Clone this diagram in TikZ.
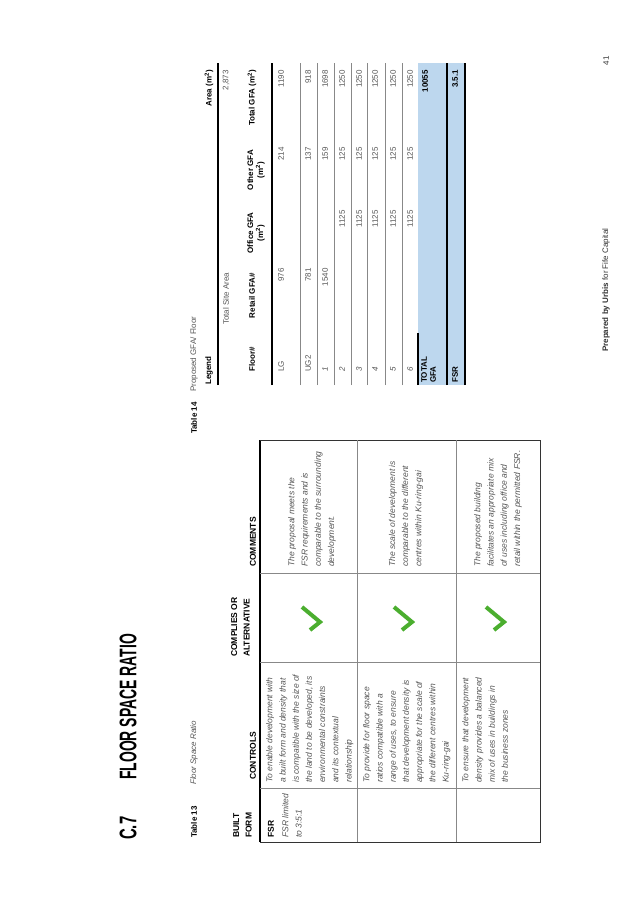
\documentclass[tikz,border=0pt]{standalone}
\usepackage{fontspec}
\usepackage{graphicx}
\setmainfont{Liberation Sans}
\usetikzlibrary{positioning,calc}
\definecolor{txtgray}{HTML}{555555}
\definecolor{rulegray}{HTML}{888888}
\definecolor{tickgreen}{HTML}{4BAE2F}
\definecolor{totalblue}{HTML}{BDD7EE}
\tikzset{
    every node/.style={rotate=90, inner sep=0pt, text=txtgray},
    head/.style={font=\fontsize{8.5}{12.5}\selectfont\bfseries, text=black, align=left},
    body/.style={font=\fontsize{8.5}{13.2}\selectfont\itshape, align=left},
    cell/.style={font=\fontsize{8}{10}\selectfont},
    bhead/.style={font=\fontsize{8}{10}\selectfont\bfseries, text=black, align=center},
    thick rule/.style={line width=1.6pt, black},
    thin rule/.style={line width=0.5pt, rulegray},
    tick/.style={line width=4pt, tickgreen},
}
\newcommand{\tickat}[1]{\draw[tick] ($(#1)+(-11,-10)$) -- ($(#1)+(7,5)$) -- ($(#1)+(-3,13)$);}

\begin{document}
\begin{tikzpicture}[x=1pt, y=-1pt]
        \useasboundingbox (0,0) rectangle (637,902);
        % title and captions
        \node[anchor=west, text=black, font=\fontsize{24}{24}\selectfont\bfseries] (secno) at (128,840) {\scalebox{0.62}[1]{C.7}};
        \node[anchor=west, text=black, font=\fontsize{24}{24}\selectfont\bfseries] (sectitle) at (128,780) {\scalebox{0.58}[1]{FLOOR SPACE RATIO}};
        \node[anchor=west, cell, font=\fontsize{8}{10}\selectfont\bfseries, text=black] (cap13) at (194,838) {Table 13};
        \node[anchor=west, cell, font=\fontsize{8}{10}\selectfont\itshape] (cap13t) at (194,785) {Floor Space Ratio};
        \node[anchor=west, cell, font=\fontsize{8}{10}\selectfont\bfseries, text=black] (cap14) at (194,434) {Table 14};
        \node[anchor=west, cell] (cap14t) at (194,392) {Proposed GFA/ Floor};

        % left table
        \node[head, anchor=north west] (hbuilt) at (233,838) {BUILT\\FORM};
        \node[head, anchor=west] (hcontrols) at (253,780) {CONTROLS};
        \node[head, anchor=north west] (hcomplies) at (231,657) {COMPLIES OR\\ALTERNATIVE};
        \node[head, anchor=west] (hcomments) at (253,567) {COMMENTS};
        \draw[thick rule] (260,842) -- (260,440);
        \draw[line width=1pt, black!80] (260,842) -- (540,842) -- (540,440) -- (260,440);
        \foreach \y in {788,662,573} \draw[thin rule] (260,\y) -- (540,\y);
        \foreach \x in {357,456} \draw[thin rule] (\x,842) -- (\x,440);

        \node[head, anchor=west] (fsr) at (271,838) {FSR};
        \node[body, anchor=north west] (fsrlim) at (282,838) {FSR limited\\to 3:5:1};
        \node[body, anchor=north west] (ctrla) at (266,783) {To enable development with\\a built form and density that\\is compatible with the size of\\the land to be developed, its\\environmental constraints\\and its contextual\\relationship};
        \node[body, anchor=north west] (ctrlb) at (363,783) {To provide for floor space\\ratios compatible with a\\range of uses, to ensure\\that development density is\\appropriate for the scale of\\the different centres within\\Ku-ring-gai};
        \node[body, anchor=north west] (ctrlc) at (462,783) {To ensure that development\\density provides a balanced\\mix of uses in buildings in\\the business zones};
        \node[body, anchor=west] (cmta) at (312,567) {The proposal meets the\\FSR requirements and is\\comparable to the surrounding\\development.};
        \node[body, anchor=west] (cmtb) at (406,567) {The scale of development is\\comparable to the different\\centres  within Ku-ring-gai};
        \node[body, anchor=west] (cmtc) at (498,567) {The proposed building\\facilitates an appropriate mix\\of uses including office and\\retail within the permitted FSR.};
        \coordinate (ticka) at (313,617);
        \coordinate (tickb) at (405,617);
        \coordinate (tickc) at (497,617);
        \tickat{ticka} \tickat{tickb} \tickat{tickc}

        % right table
        \fill[totalblue] (418,385) rectangle (465,63);
        \node[bhead, anchor=west] (legend) at (209,385) {Legend};
        \node[bhead, anchor=east] (area) at (209,70) {Area (m\textsuperscript{2})};
        \draw[thick rule] (218,385) -- (218,63);
        \node[cell, anchor=west] (site) at (226,325) {Total Site Area};
        \node[cell, anchor=east] (sitev) at (226,70) {2,873};
        \node[bhead, anchor=east] (hfloor) at (252,347) {Floor\#};
        \node[bhead, anchor=east] (hretail) at (252,273) {Retail GFA\#};
        \node[bhead] (hoffice) at (256,233) {Office GFA\\(m\textsuperscript{2})};
        \node[bhead] (hother) at (256,170) {Other GFA\\(m\textsuperscript{2})};
        \node[bhead, anchor=east] (htotal) at (252,70) {Total GFA (m\textsuperscript{2})};
        \draw[thick rule] (272,385) -- (272,63);
        \foreach \x in {300,317,334,351,367,385,402} \draw[thin rule] (\x,385) -- (\x,63);
        \foreach \fl/\ret/\off/\oth/\tot/\x in {LG/976//214/1190/281, UG2/781//137/918/308,
            \textit{1}/1540//159/1698/325, \textit{2}//1125/125/1250/342, \textit{3}//1125/125/1250/359,
            \textit{4}//1125/125/1250/375, \textit{5}//1125/125/1250/393, \textit{6}//1125/125/1250/410} {
            \node[cell, anchor=west] at (\x,372) {\fl};
            \node[cell, anchor=east] at (\x,268) {\ret};
            \node[cell, anchor=east] at (\x,210) {\off};
            \node[cell, anchor=east] at (\x,147) {\oth};
            \node[cell, anchor=east] at (\x,70) {\tot};
        }
        \draw[thick rule] (418,385) -- (418,333);
        \draw[thick rule] (447,385) -- (447,63);
        \draw[thick rule] (465,385) -- (465,63);
        \node[bhead, anchor=north west, align=left, font=\fontsize{8}{9}\selectfont\bfseries] (total) at (421,383) {TOTAL\\GFA};
        \node[bhead, anchor=east] (totalv) at (425,70) {10055};
        \node[bhead, anchor=west] (fsrrow) at (455,383) {FSR};
        \node[bhead, anchor=east] (fsrv) at (455,70) {3.5.1};

        % footer
        \node[cell, anchor=west, text=black!80] (footer) at (606,352) {\textbf{Prepared by Urbis} for Fife Capital};
        \node[cell, anchor=east, text=black!80] (pageno) at (606,56) {41};
    \end{tikzpicture}
\end{document}
